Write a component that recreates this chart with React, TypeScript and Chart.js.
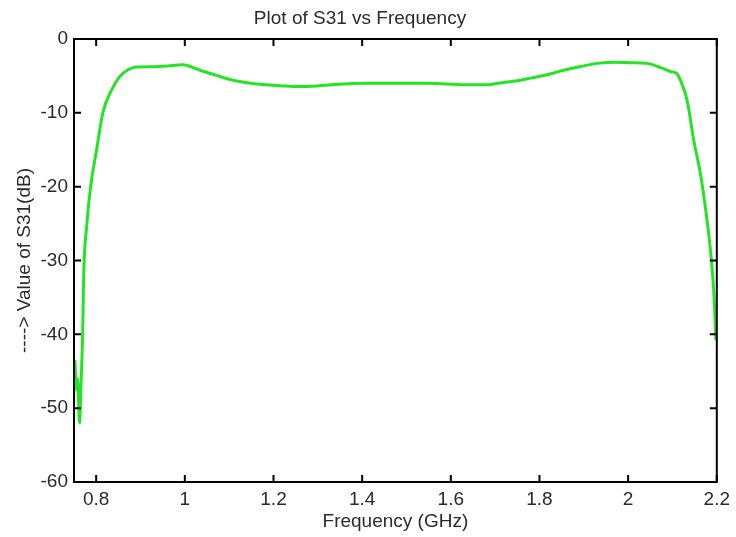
import React, { useEffect, useRef } from "react";
import { Chart, registerables } from "chart.js";

Chart.register(...registerables);

const freqGHz: number[] = [
  0.752, 0.7555, 0.758, 0.7625, 0.766, 0.7695, 0.772, 0.7785, 0.7875, 0.801,
  0.815, 0.835, 0.853, 0.871, 0.89, 0.93, 0.96, 0.995, 1.033, 1.07,
  1.107, 1.145, 1.183, 1.22, 1.257, 1.3, 1.331, 1.407, 1.482, 1.55,
  1.632, 1.68, 1.706, 1.745, 1.78, 1.82, 1.857, 1.895, 1.931, 1.97,
  2.005, 2.043, 2.075, 2.095, 2.11, 2.122, 2.133, 2.148, 2.163, 2.174,
  2.185, 2.193, 2.198,
];

const s31dB: number[] = [
  -43.5, -47.5, -46.0, -52.0, -46.5, -40.0, -31.7, -25.4, -20.0, -15.0,
  -10.0, -6.9, -5.1, -4.2, -3.8, -3.75, -3.65, -3.5, -4.2, -4.9,
  -5.55, -5.95, -6.2, -6.35, -6.45, -6.35, -6.2, -6.0, -6.0, -6.0,
  -6.2, -6.2, -6.0, -5.7, -5.3, -4.8, -4.2, -3.7, -3.3, -3.15,
  -3.2, -3.3, -3.9, -4.4, -4.7, -6.2, -8.3, -13.7, -18.2, -22.7,
  -28.2, -34.0, -40.8,
];

const xTickValues: number[] = [0.8, 1, 1.2, 1.4, 1.6, 1.8, 2, 2.2];
const yTickValues: number[] = [-60, -50, -40, -30, -20, -10, 0];

const FONT = "'Liberation Sans', Arial, Helvetica, sans-serif";
const TEXT = "#2a2a2a";
const FS = 19;

const framePlugin = {
  id: "matlabFrame",
  afterDraw(chart: any) {
    const { ctx, chartArea } = chart;
    const { left, right, top, bottom } = chartArea;
    const xs = chart.scales.x;
    const ys = chart.scales.y;
    const len = 7;
    ctx.save();
    ctx.strokeStyle = "#000";
    ctx.lineWidth = 2;
    ctx.beginPath();
    xTickValues.forEach((v) => {
      const px = xs.getPixelForValue(v);
      ctx.moveTo(px, bottom);
      ctx.lineTo(px, bottom - len);
      ctx.moveTo(px, top);
      ctx.lineTo(px, top + len);
    });
    yTickValues.forEach((v) => {
      const py = ys.getPixelForValue(v);
      ctx.moveTo(left, py);
      ctx.lineTo(left + len, py);
      ctx.moveTo(right, py);
      ctx.lineTo(right - len, py);
    });
    ctx.stroke();
    ctx.strokeRect(left, top, right - left, bottom - top);
    ctx.restore();
  },
};

export default function App() {
  const canvasRef = useRef<HTMLCanvasElement | null>(null);

  useEffect(() => {
    if (!canvasRef.current) return;
    const data = freqGHz.map((f, i) => ({ x: f, y: s31dB[i] }));
    const chart = new Chart(canvasRef.current, {
      type: "scatter",
      data: {
        datasets: [
          {
            data,
            showLine: true,
            borderColor: "rgb(36, 228, 36)",
            borderWidth: 3,
            pointRadius: 0,
            cubicInterpolationMode: "monotone",
            fill: false,
          } as any,
        ],
      },
      plugins: [framePlugin],
      options: {
        animation: false,
        responsive: false,
        devicePixelRatio: 1,
        layout: { padding: { left: 0, right: 16, top: 0, bottom: 0 } },
        plugins: {
          legend: { display: false },
          tooltip: { enabled: false },
          title: {
            display: true,
            text: "Plot of S31 vs Frequency",
            color: TEXT,
            font: { family: FONT, size: FS, weight: "normal" as any, lineHeight: 1.2 },
            padding: { top: 7, bottom: 9.2 },
          },
        },
        scales: {
          x: {
            type: "linear",
            min: 0.75,
            max: 2.2,
            grid: { display: false, drawTicks: false },
            border: { display: false },
            afterBuildTicks: (scale: any) => {
              scale.ticks = xTickValues.map((v) => ({ value: v }));
            },
            afterFit: (scale: any) => {
              scale.height = 55;
            },
            ticks: {
              color: TEXT,
              padding: 6,
              maxRotation: 0,
              autoSkip: false,
              font: { family: FONT, size: FS },
              callback: (v: any) => String(Math.round(Number(v) * 10) / 10),
            },
            title: {
              display: true,
              text: "Frequency (GHz)",
              color: TEXT,
              font: { family: FONT, size: FS, lineHeight: 1.2 },
              padding: { top: 0, bottom: 3.6 },
            },
          },
          y: {
            type: "linear",
            min: -60,
            max: 0,
            grid: { display: false, drawTicks: false },
            border: { display: false },
            afterBuildTicks: (scale: any) => {
              scale.ticks = yTickValues.map((v) => ({ value: v }));
            },
            afterFit: (scale: any) => {
              scale.width = 74;
            },
            ticks: {
              color: TEXT,
              padding: 6,
              autoSkip: false,
              font: { family: FONT, size: FS },
              callback: (v: any) => String(Math.round(Number(v))),
            },
            title: {
              display: true,
              text: "----> Value of S31(dB)",
              color: TEXT,
              font: { family: FONT, size: FS, lineHeight: 1.2 },
              padding: { top: 13.6, bottom: 0 },
            },
          },
        },
      },
    });
    return () => chart.destroy();
  }, []);

  return (
    <div
      style={{
        position: "absolute",
        left: 0,
        top: 0,
        width: 736,
        height: 537,
        background: "#fff",
      }}
    >
      <canvas ref={canvasRef} width={736} height={537} />
    </div>
  );
}
